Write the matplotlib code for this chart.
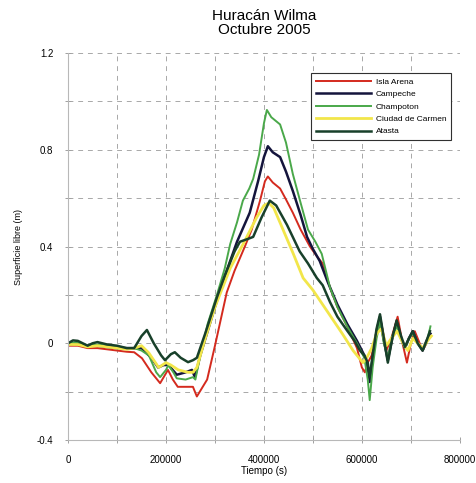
import matplotlib
matplotlib.use("Agg")
import matplotlib.pyplot as plt
from matplotlib.ticker import MultipleLocator

plt.rcParams['font.family'] = ['Liberation Sans', 'DejaVu Sans']

title = "Huracán Wilma\nOctubre 2005"
xlabel = "Tiempo (s)"
ylabel = "Superficie libre (m)"
names = ["Isla Arena", "Campeche", "Champoton", "Ciudad de Carmen", "Atasta"]
colors = ["#d42a1e", "#14143c", "#4aa84a", "#f2e64a", "#18402a"]

x_isla = [0, 20000, 40000, 60000, 80000, 100000, 120000, 135000, 151000, 170000, 188000,
          204000, 214000, 224000, 240000, 255000, 263000, 272000, 284000, 300000, 312000,
          324000, 340000, 361000, 375000, 392000, 402000, 408000, 418000, 433000, 445000,
          459000, 475000, 494000, 508000, 520000, 535000, 550000, 570000, 590000, 600000,
          606000, 612000, 620000, 630000, 640000, 650000, 660000, 673000, 683000, 692000,
          700000, 708000, 716000, 724000, 732000]
y_isla = [-0.01, -0.01, -0.02, -0.02, -0.025, -0.03, -0.035, -0.037, -0.062, -0.12, -0.165,
          -0.11, -0.15, -0.18, -0.18, -0.18, -0.22, -0.19, -0.15, -0.01, 0.10,
          0.21, 0.30, 0.40, 0.47, 0.59, 0.67, 0.69, 0.665, 0.64, 0.595,
          0.54, 0.47, 0.40, 0.36, 0.33, 0.23, 0.15, 0.07, -0.02, -0.10,
          -0.12, -0.08, -0.05, 0.05, 0.08, -0.03, 0.02, 0.11, 0.0, -0.08,
          0.0, 0.05, 0.01, -0.03, 0.0]

x_camp = [0, 20000, 40000, 60000, 80000, 100000, 120000, 135000, 150000, 170000, 184000,
          195000, 205000, 222000, 240000, 253000, 259000, 270000, 285000, 300000, 324000,
          345000, 371000, 388000, 400000, 408000, 418000, 433000, 445000, 459000, 475000,
          488000, 500000, 514000, 531000, 550000, 570000, 590000, 605000, 612000, 616000,
          622000, 630000, 637000, 645000, 653000, 662000, 671000, 680000, 688000, 696000,
          704000, 714000, 724000, 732000, 740000]
y_camp = [-0.005, 0.0, -0.01, -0.01, -0.015, -0.02, -0.02, -0.02, -0.02, -0.06, -0.10,
          -0.09, -0.09, -0.13, -0.12, -0.11, -0.14, -0.05, 0.05, 0.15, 0.30,
          0.42, 0.54, 0.67, 0.77, 0.815, 0.79, 0.77, 0.71, 0.63, 0.53,
          0.44, 0.39, 0.34, 0.25, 0.16, 0.08, 0.01, -0.05, -0.10, -0.16,
          -0.06, 0.05, 0.11, 0.01, -0.07, 0.02, 0.09, 0.02, -0.02, 0.02,
          0.05, 0.0, -0.03, 0.01, 0.04]

x_champ = [0, 20000, 40000, 60000, 80000, 100000, 120000, 135000, 150000, 165000, 180000,
           188000, 200000, 205000, 215000, 222000, 240000, 255000, 260000, 270000, 285000,
           304000, 320000, 331000, 345000, 357000, 370000, 378000, 390000, 400000, 406000,
           415000, 433000, 445000, 459000, 475000, 490000, 505000, 518000, 535000, 550000,
           570000, 590000, 605000, 612000, 616000, 622000, 630000, 637000, 645000, 653000,
           662000, 671000, 680000, 688000, 696000, 704000, 714000, 724000, 732000, 740000]
y_champ = [0.0, 0.005, -0.01, -0.005, -0.01, -0.015, -0.02, -0.02, -0.03, -0.05, -0.12,
           -0.14, -0.11, -0.09, -0.12, -0.145, -0.15, -0.14, -0.15, -0.05, 0.08,
           0.20, 0.31, 0.41, 0.50, 0.59, 0.64, 0.68, 0.78, 0.91, 0.965,
           0.935, 0.905, 0.83, 0.70, 0.58, 0.47, 0.42, 0.37, 0.23, 0.15,
           0.07, 0.0, -0.06, -0.15, -0.235, -0.10, 0.02, 0.09, 0.0, -0.06,
           0.03, 0.07, 0.02, -0.02, 0.02, 0.04, 0.0, -0.02, 0.0, 0.07]

x_carmen = [0, 20000, 40000, 60000, 80000, 100000, 120000, 135000, 150000, 165000, 185000,
            200000, 210000, 225000, 245000, 255000, 263000, 280000, 300000, 331000, 360000,
            385000, 400000, 410000, 420000, 439000, 460000, 480000, 500000, 520000, 540000,
            560000, 582000, 602000, 610000, 620000, 630000, 640000, 650000, 660000, 672000,
            684000, 694000, 704000, 714000, 724000, 734000, 742000]
y_carmen = [-0.005, -0.005, -0.015, -0.01, -0.015, -0.02, -0.025, -0.02, -0.01, -0.04, -0.10,
            -0.08, -0.09, -0.11, -0.12, -0.12, -0.10, 0.02, 0.15, 0.31, 0.42,
            0.52, 0.57, 0.58, 0.56, 0.47, 0.37, 0.27, 0.22, 0.16, 0.10,
            0.04, -0.03, -0.08, -0.06, -0.02, 0.04, 0.06, -0.01, 0.02, 0.05,
            0.0, -0.03, 0.02, 0.0, -0.02, 0.01, 0.03]

x_atasta = [0, 10000, 20000, 30000, 40000, 50000, 60000, 80000, 100000, 120000, 135000,
            150000, 161000, 175000, 190000, 198000, 210000, 218000, 230000, 245000, 255000,
            263000, 280000, 304000, 320000, 340000, 351000, 365000, 378000, 395000, 412000,
            425000, 447000, 473000, 490000, 508000, 520000, 535000, 550000, 569000, 585000,
            596000, 605000, 612000, 616000, 622000, 630000, 637000, 645000, 653000, 662000,
            671000, 680000, 688000, 696000, 704000, 714000, 724000, 732000, 739000]
y_atasta = [0.0, 0.012, 0.01, 0.0, -0.01, 0.0, 0.005, -0.005, -0.01, -0.02, -0.02,
            0.03, 0.055, 0.0, -0.05, -0.07, -0.045, -0.037, -0.06, -0.078, -0.07,
            -0.06, 0.04, 0.19, 0.28, 0.38, 0.42, 0.43, 0.44, 0.52, 0.59,
            0.57, 0.49, 0.38, 0.33, 0.27, 0.24, 0.17, 0.11, 0.055, 0.01,
            -0.03, -0.05, -0.08, -0.14, -0.05, 0.06, 0.12, 0.02, -0.08, 0.02,
            0.095, 0.03, -0.015, 0.02, 0.05, 0.0, -0.03, 0.01, 0.05]

series = [(x_isla, y_isla), (x_camp, y_camp), (x_champ, y_champ),
          (x_carmen, y_carmen), (x_atasta, y_atasta)]
widths = [1.4, 1.8, 1.4, 2.0, 1.8]

fig = plt.figure(figsize=(4.76, 4.83), dpi=100)
ax = fig.add_axes([0.143, 0.089, 0.823, 0.801])

for (xs, ys), name, c, lw in zip(series, names, colors, widths):
    ax.plot(xs, ys, color=c, lw=lw, label=name, solid_joinstyle='round')

ax.set_xlim(0, 800000)
ax.set_ylim(-0.4, 1.2)
ax.xaxis.set_minor_locator(MultipleLocator(100000))
ax.yaxis.set_minor_locator(MultipleLocator(0.2))
ax.set_xticks([0, 200000, 400000, 600000, 800000])
ax.set_xticklabels(["0", "200000", "400000", "600000", "800000"])
ax.set_yticks([-0.4, 0, 0.4, 0.8, 1.2])
ax.set_yticklabels(["-0.4", "0", "0.4", "0.8", "1.2"])

ax.grid(True, which='both', linestyle=(0, (5, 5)), color='#a8a8a8', lw=0.7)
ax.set_axisbelow(True)
for s in ['top', 'right']:
    ax.spines[s].set_visible(False)
for s in ['left', 'bottom']:
    ax.spines[s].set_color('#b8b8b8')
    ax.spines[s].set_linewidth(0.8)
ax.tick_params(which='both', direction='inout', length=5, color='#a0a0a0', width=0.7,
               labelsize=7, pad=8)

ax.set_xlabel(xlabel, fontsize=7, labelpad=1)
ax.set_ylabel(ylabel, fontsize=6.5, labelpad=10)
ax.set_title(title, fontsize=11, pad=14, linespacing=0.95)

leg = ax.legend(loc='upper right', bbox_to_anchor=(0.98, 0.951), fontsize=6,
                handlelength=6.5, frameon=True, fancybox=False, edgecolor='#303030',
                framealpha=1, borderpad=0.6, labelspacing=0.55, handletextpad=0.6,
                borderaxespad=0.1)
leg.get_frame().set_linewidth(0.8)

fig.savefig("out.png", dpi=100)
